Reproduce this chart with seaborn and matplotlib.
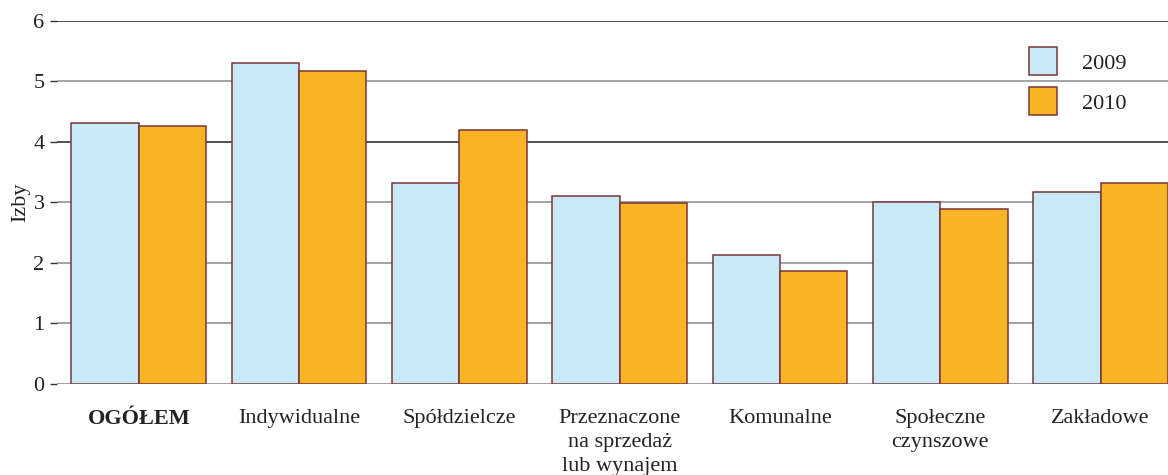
"""
Przeciętna liczba izb w mieszkaniu oddanym do użytkowania, wg form budownictwa.
"""
import matplotlib
matplotlib.use("Agg")

import pandas as pd
import matplotlib.pyplot as plt
import seaborn as sns
from matplotlib.patches import Patch

# ─────────────────────────────────────────────
# Data
# ─────────────────────────────────────────────
CATEGORIES = [
    "OGÓŁEM",
    "Indywidualne",
    "Spółdzielcze",
    "Przeznaczone\nna sprzedaż\nlub wynajem",
    "Komunalne",
    "Społeczne\nczynszowe",
    "Zakładowe",
]
YEARS = ["2009", "2010"]
IZBY_2009 = [4.32, 5.31, 3.33, 3.10, 2.13, 3.00, 3.17]
IZBY_2010 = [4.26, 5.18, 4.19, 2.99, 1.87, 2.89, 3.33]
Y_TICKS = [0, 1, 2, 3, 4, 5, 6]

COLORS = {"2009": "#c8e9f8", "2010": "#f7b526"}
EDGE = "#7b3535"
FS = 16

df = pd.DataFrame({
    "kategoria": CATEGORIES * 2,
    "rok": [YEARS[0]] * len(CATEGORIES) + [YEARS[1]] * len(CATEGORIES),
    "izby": IZBY_2009 + IZBY_2010,
})

# ─────────────────────────────────────────────
# Plot
# ─────────────────────────────────────────────
sns.set_theme(style="white")
plt.rcParams["font.family"] = ["Liberation Serif", "DejaVu Serif"]

fig = plt.figure(figsize=(11.68, 4.75), dpi=100)
ax = fig.add_axes([0.0488, 0.1916, 0.9512, 0.7642])

sns.barplot(data=df, x="kategoria", y="izby", hue="rok", order=CATEGORIES,
            hue_order=YEARS, palette=COLORS, width=0.84, gap=0,
            edgecolor=EDGE, linewidth=1.1, saturation=1, ax=ax, zorder=3)

ax.set_ylim(0, 6)
ax.set_xlim(-0.51, 6.42)
ax.set_yticks(Y_TICKS)
ax.yaxis.grid(True, linewidth=1.1)
ax.set_axisbelow(True)
for val, gl in zip(Y_TICKS, ax.get_ygridlines()):
    gl.set_color("#222222" if val in (4, 6) else "#8a8a8a")

for side in ["left", "right", "top", "bottom"]:
    ax.spines[side].set_visible(False)

ax.tick_params(axis="y", left=True, length=5, width=1, color="#333333",
               labelsize=FS, pad=4, labelcolor="#222222")
ax.tick_params(axis="x", bottom=False, labelsize=FS, pad=12, labelcolor="#222222")
ax.set_xticks(range(len(CATEGORIES)))
ax.set_xticklabels(CATEGORIES, linespacing=1.37, va="top")
ax.get_xticklabels()[0].set_fontweight("bold")
ax.set_xlabel("")
ax.set_ylabel("Izby", fontsize=FS, labelpad=2, color="#222222")

handles = [Patch(facecolor=COLORS[y], edgecolor=EDGE, linewidth=1.1) for y in YEARS]
ax.legend(handles, YEARS, loc="upper left", bbox_to_anchor=(0.875, 0.927),
          frameon=False, fontsize=FS, handlelength=1.27, handleheight=1.55,
          handletextpad=1.13, labelspacing=0.54, borderpad=0, borderaxespad=0,
          labelcolor="#222222")

fig.savefig("out.png", dpi=100)
plt.close(fig)
